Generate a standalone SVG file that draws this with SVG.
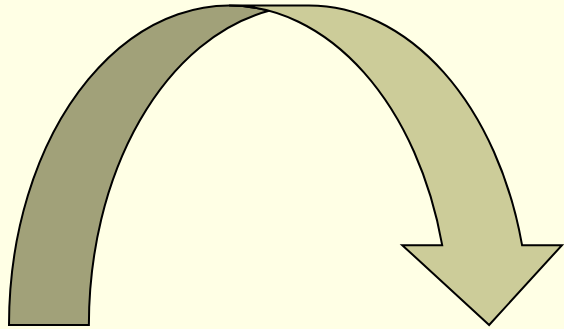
<svg xmlns="http://www.w3.org/2000/svg" width="564" height="329" viewBox="0 0 564 329">
  <style>
    .edge { stroke: #000000; stroke-width: 2; stroke-linejoin: miter; }
    .back { fill: #A1A179; }
    .front { fill: #CCCC99; }
  </style>
  <rect x="0" y="0" width="564" height="329" fill="#FFFFE5"/>
  <g id="curved-arrow">
    <path id="back-band" class="back edge" d="M 269.03 10.81 A 220.094 319.5 0 0 0 88.875 325 L 9 325 A 220.094 319.5 0 0 1 269.03 10.81 Z"/>
    <path id="front-band" class="front edge" d="M 489.125 325 L 402.25 245.125 L 442.19 245.125 A 220.094 319.5 0 0 0 229.094 5.5 L 308.969 5.5 A 220.094 319.5 0 0 1 522.07 245.125 L 562.01 245.125 Z"/>
  </g>
</svg>
